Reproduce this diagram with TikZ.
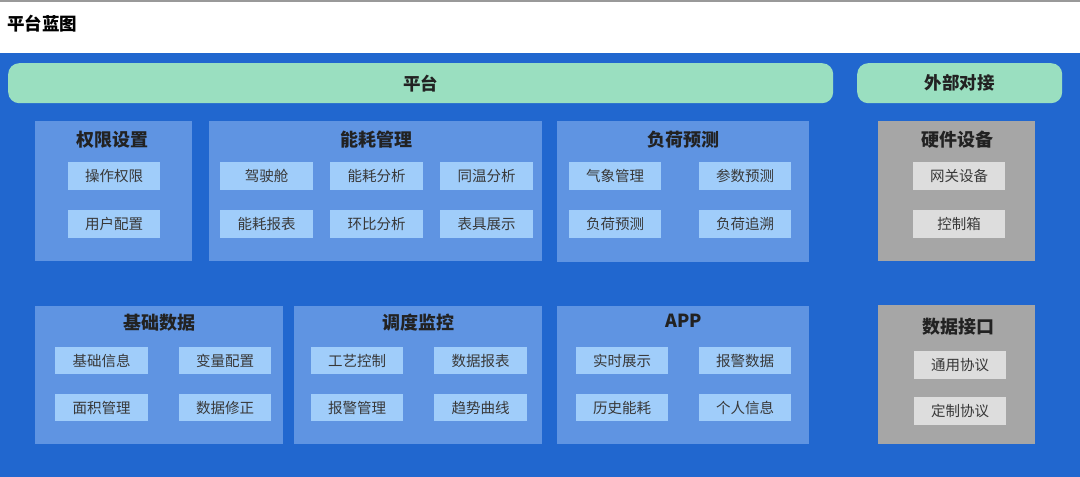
\documentclass[tikz,border=0pt]{standalone}
\usepackage{fontspec}
\setmainfont{Noto Sans CJK SC}
\definecolor{bgblue}{HTML}{2167CF}
\definecolor{panelblue}{HTML}{5F94E2}
\definecolor{itemblue}{HTML}{A0CDFA}
\definecolor{greenbar}{HTML}{9ADFC0}
\definecolor{greypanel}{HTML}{A6A6A6}
\definecolor{greyitem}{HTML}{DDDDDD}
\definecolor{txt}{HTML}{222222}
\tikzset{
  panel/.style={fill=panelblue, draw=none, inner sep=0pt, anchor=north west},
  gpanel/.style={fill=greypanel, draw=none, inner sep=0pt, anchor=north west},
  item/.style={fill=itemblue, draw=none, inner sep=0pt, anchor=north west, text=txt!90!white, font=\fontsize{14.5}{16}\selectfont},
  gitem/.style={item, fill=greyitem},
  ptitle/.style={text=txt, font=\fontsize{18}{20}\selectfont\bfseries, inner sep=0pt},
  bar/.style={fill=greenbar, draw=none, rounded corners=11pt, inner sep=0pt, anchor=north west, text=txt, font=\fontsize{17.5}{19}\selectfont\bfseries}
}
\begin{document}
\begin{tikzpicture}[x=1pt,y=-1pt]
\useasboundingbox (0,0) rectangle (1080,477);
\fill[white] (0,0) rectangle (1080,53);
\fill[bgblue] (0,53) rectangle (1080,477);
\draw[gray!80, line width=1.5pt] (0,0.75) -- (1080,0.75);
\node[anchor=west, text=black, font=\fontsize{17.5}{19}\selectfont\bfseries, inner sep=0pt] (hdr) at (7,24) {平台蓝图};
% green bars
\node[bar, minimum width=825pt, minimum height=40pt] (plat) at (8,63) {平台};
\node[bar, minimum width=205pt, minimum height=40pt] (ext) at (857,63) {外部对接};
% row 1 panels
\node[panel, minimum width=157pt, minimum height=140pt] (p1) at (35,121) {};
\node[ptitle] (t1) at (112,140) {权限设置};
\node[item, minimum width=92pt, minimum height=28pt] (i11) at (68,162) {操作权限};
\node[item, minimum width=92pt, minimum height=28pt] (i12) at (68,210) {用户配置};

\node[panel, minimum width=333pt, minimum height=140pt] (p2) at (209,121) {};
\node[ptitle] (t2) at (376,140) {能耗管理};
\node[item, minimum width=93pt, minimum height=28pt] (i21) at (220,162) {驾驶舱};
\node[item, minimum width=93pt, minimum height=28pt] (i22) at (330,162) {能耗分析};
\node[item, minimum width=93pt, minimum height=28pt] (i23) at (440,162) {同温分析};
\node[item, minimum width=93pt, minimum height=28pt] (i24) at (220,210) {能耗报表};
\node[item, minimum width=93pt, minimum height=28pt] (i25) at (330,210) {环比分析};
\node[item, minimum width=93pt, minimum height=28pt] (i26) at (440,210) {表具展示};

\node[panel, minimum width=252pt, minimum height=141pt] (p3) at (557,121) {};
\node[ptitle] (t3) at (683,140) {负荷预测};
\node[item, minimum width=92pt, minimum height=28pt] (i31) at (569,162) {气象管理};
\node[item, minimum width=92pt, minimum height=28pt] (i32) at (699,162) {参数预测};
\node[item, minimum width=92pt, minimum height=28pt] (i33) at (569,210) {负荷预测};
\node[item, minimum width=92pt, minimum height=28pt] (i34) at (699,210) {负荷追溯};

\node[gpanel, minimum width=157pt, minimum height=140pt] (p4) at (878,121) {};
\node[ptitle] (t4) at (957,140) {硬件设备};
\node[gitem, minimum width=92pt, minimum height=28pt] (i41) at (913,162) {网关设备};
\node[gitem, minimum width=92pt, minimum height=28pt] (i42) at (913,210) {控制箱};

% row 2 panels
\node[panel, minimum width=248pt, minimum height=138pt] (p5) at (35,306) {};
\node[ptitle] (t5) at (159,323) {基础数据};
\node[item, minimum width=93pt, minimum height=27pt] (i51) at (55,347) {基础信息};
\node[item, minimum width=92pt, minimum height=27pt] (i52) at (179,347) {变量配置};
\node[item, minimum width=93pt, minimum height=27pt] (i53) at (55,394) {面积管理};
\node[item, minimum width=92pt, minimum height=27pt] (i54) at (179,394) {数据修正};

\node[panel, minimum width=248pt, minimum height=138pt] (p6) at (294,306) {};
\node[ptitle] (t6) at (418,323) {调度监控};
\node[item, minimum width=92pt, minimum height=27pt] (i61) at (311,347) {工艺控制};
\node[item, minimum width=93pt, minimum height=27pt] (i62) at (434,347) {数据报表};
\node[item, minimum width=92pt, minimum height=27pt] (i63) at (311,394) {报警管理};
\node[item, minimum width=93pt, minimum height=27pt] (i64) at (434,394) {趋势曲线};

\node[panel, minimum width=252pt, minimum height=138pt] (p7) at (557,306) {};
\node[ptitle] (t7) at (684,321) {APP};
\node[item, minimum width=92pt, minimum height=27pt] (i71) at (576,347) {实时展示};
\node[item, minimum width=92pt, minimum height=27pt] (i72) at (699,347) {报警数据};
\node[item, minimum width=92pt, minimum height=27pt] (i73) at (576,394) {历史能耗};
\node[item, minimum width=92pt, minimum height=27pt] (i74) at (699,394) {个人信息};

\node[gpanel, minimum width=157pt, minimum height=139pt] (p8) at (878,305) {};
\node[ptitle] (t8) at (958,327) {数据接口};
\node[gitem, minimum width=92pt, minimum height=28pt] (i81) at (914,351) {通用协议};
\node[gitem, minimum width=92pt, minimum height=28pt] (i82) at (914,397) {定制协议};
\end{tikzpicture}
\end{document}
